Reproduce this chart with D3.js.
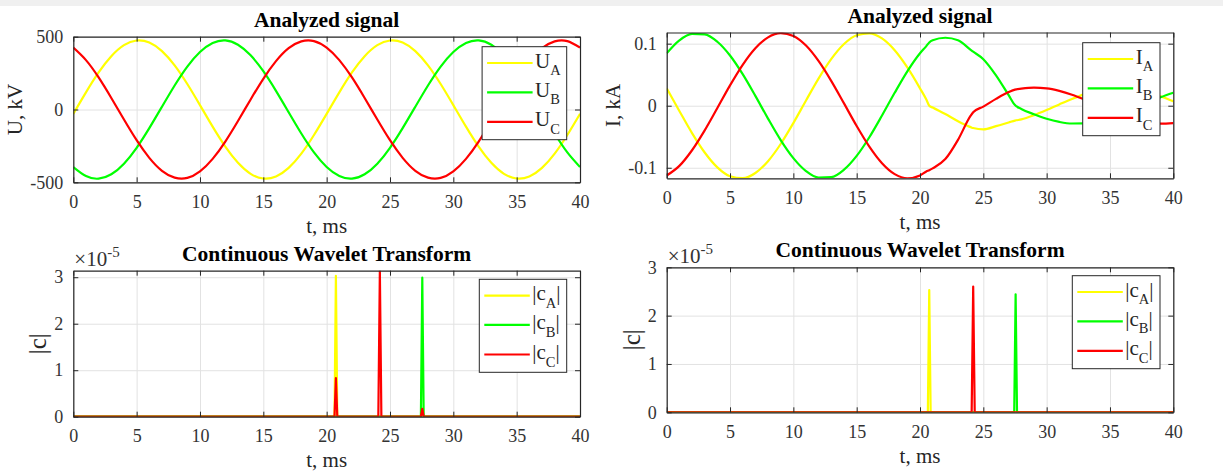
<!DOCTYPE html>
<html>
<head>
<meta charset="utf-8">
<script src="https://cdn.jsdelivr.net/npm/d3@7"></script>
<style>
  html, body { margin: 0; padding: 0; background: #fff; }
  svg { display: block; }
  text { font-family: "Liberation Serif", "Times New Roman", serif; }
</style>
</head>
<body>
<svg id="fig" width="1223" height="474"></svg>
<script>
// ---------- data ----------
// phase voltages, kV, sampled every 1 ms
const tU = d3.range(0, 41);
const uA = [-30,118,255,366,442,474,460,401,303,175,30,-118,-255,-366,-442,-474,-460,-401,-303,-175,
            -30,118,255,366,442,474,460,401,303,175,30,-118,-255,-366,-442,-474,-460,-401,-303,-175,-30];
const uB = [-395,-457,-475,-445,-372,-263,-128,19,165,295,395,457,475,445,372,263,128,-19,-165,-295,
            -395,-457,-475,-445,-372,-263,-128,19,165,295,395,457,475,445,372,263,128,-19,-165,-295,-395];
const uC = [425,339,220,79,-69,-211,-332,-421,-468,-470,-425,-339,-220,-79,69,211,332,421,468,470,
            425,339,220,79,-69,-211,-332,-421,-468,-470,-425,-339,-220,-79,69,211,332,421,468,470,425];

// phase currents, kA (poles open at current zeros near 20.73, 24.2 and 27.5 ms)
const tI = [0,1,2,3,4,5,6,7,8,9,10,11,12,13,14,15,16,17,18,19,20,20.5,20.73,21,22,23,24,24.2,25,26,27,27.5,
            28,29,30,31,32,33,34,35,36,37,38,39,40];
const iA = [0.0280,-0.0084,-0.0441,-0.0754,-0.0994,-0.1136,-0.1167,-0.1084,-0.0894,-0.0617,-0.0280,
            0.0084,0.0441,0.0754,0.0994,0.1136,0.1167,0.1084,0.0894,0.0617,0.0280,0.0099,0.0,
            -0.003,-0.0135,-0.025,-0.0345,-0.036,-0.038,-0.033,-0.027,-0.024,
            -0.022,-0.0153,-0.0070,0.0021,0.0109,0.0187,0.0246,0.0282,0.0289,0.0269,0.0222,0.0153,0.0070];
const iB = [0.0845,0.1054,0.1159,0.1151,0.1031,0.0809,0.0508,0.0158,-0.0208,-0.0554,-0.0845,
            -0.1054,-0.1159,-0.1151,-0.1031,-0.0809,-0.0508,-0.0158,0.0208,0.0554,0.0845,0.0961,0.102,
            0.1055,0.1095,0.1055,0.090,0.087,0.075,0.049,0.017,0.001,
            -0.0052,-0.0137,-0.0210,-0.0261,-0.0287,-0.0285,-0.0255,-0.0200,-0.0126,-0.0039,0.0052,0.0137,0.0210];
const iC = [-0.1125,-0.0970,-0.0718,-0.0397,-0.0037,0.0327,0.0659,0.0926,0.1102,0.1171,0.1125,
            0.0970,0.0718,0.0397,0.0037,-0.0327,-0.0659,-0.0926,-0.1102,-0.1171,-0.1125,-0.1060,-0.104,
            -0.101,-0.086,-0.055,-0.016,-0.0105,-0.0014,0.011,0.022,0.026,
            0.0274,0.029,0.028,0.024,0.0178,0.0098,0.0009,-0.0082,-0.0163,-0.0230,-0.0274,-0.0290,-0.0280];

// CWT magnitudes
const tCwt = [0,20.62,20.73,20.84,24.08,24.2,24.32,27.44,27.55,27.66,40];
const cA_U = [0,0,3.03e-5,0,0,0,0,0,0,0,0];
const cB_U = [0,0,0,0,0,0,0,0,2.99e-5,0,0];
const cC_U = [0,0,0.83e-5,0,0,3.14e-5,0,0,0.17e-5,0,0];
const cA_I = [0,0,2.53e-5,0,0,0,0,0,0,0,0];
const cB_I = [0,0,0,0,0,0,0,0,2.44e-5,0,0];
const cC_I = [0,0,0,0,0,2.60e-5,0,0,0,0,0];

const xTicks = [0,5,10,15,20,25,30,35,40];
const uTicks = [-500,0,500];
const iTicks = [-0.1,0,0.1];
const cTicks = [0,1e-5,2e-5,3e-5];
const phases = ['A','B','C'];

// ---------- drawing ----------
const COLORS = {A: '#ffff00', B: '#00ff00', C: '#ff0000'};
const INK = '#262626';
const GRID = '#e2e2e2';
const SERIF = '"Liberation Serif", "Times New Roman", serif';
const svg = d3.select('#fig');

svg.append('rect').attr('x', 0).attr('y', 0).attr('width', 1223).attr('height', 6).attr('fill', '#f0f0f0');

function drawPanel(o) {
  const x = d3.scaleLinear().domain([0, 40]).range([o.left, o.right]);
  const y = d3.scaleLinear().domain(o.yDomain).range([o.bottom, o.top]);
  const W = o.right - o.left, H = o.bottom - o.top;
  const g = svg.append('g');

  svg.append('clipPath').attr('id', 'clip-' + o.id).append('rect')
    .attr('x', o.left).attr('y', o.top).attr('width', W).attr('height', H);

  // grid
  const gx = g.append('g').attr('transform', `translate(0,${o.bottom})`)
    .call(d3.axisBottom(x).tickValues(xTicks).tickSize(-H).tickFormat(''));
  const gy = g.append('g').attr('transform', `translate(${o.left},0)`)
    .call(d3.axisLeft(y).tickValues(o.yTicks).tickSize(-W).tickFormat(''));
  [gx, gy].forEach(a => {
    a.select('.domain').remove();
    a.selectAll('line').attr('stroke', GRID).attr('stroke-width', 1);
  });

  // series
  const line = d3.line().x(d => x(d[0])).y(d => y(d[1])).curve(o.curve);
  const dg = g.append('g').attr('clip-path', `url(#clip-${o.id})`);
  o.series.forEach((s, k) => {
    dg.append('path')
      .datum(s.t.map((t, i) => [t, s.v[i]]))
      .attr('fill', 'none')
      .attr('stroke', COLORS[phases[k]])
      .attr('stroke-width', 2.2)
      .attr('stroke-linejoin', 'round')
      .attr('d', line);
  });

  // axes (ticks pointing inward on all four sides)
  const axB = g.append('g').attr('transform', `translate(0,${o.bottom})`)
    .call(d3.axisBottom(x).tickValues(xTicks).tickSizeInner(-5).tickSizeOuter(0).tickPadding(12.5));
  const axT = g.append('g').attr('transform', `translate(0,${o.top})`)
    .call(d3.axisTop(x).tickValues(xTicks).tickSizeInner(-5).tickSizeOuter(0).tickFormat(''));
  const axL = g.append('g').attr('transform', `translate(${o.left},0)`)
    .call(d3.axisLeft(y).tickValues(o.yTicks).tickSizeInner(-5).tickSizeOuter(0).tickPadding(10).tickFormat(o.yFmt));
  const axR = g.append('g').attr('transform', `translate(${o.right},0)`)
    .call(d3.axisRight(y).tickValues(o.yTicks).tickSizeInner(-5).tickSizeOuter(0).tickFormat(''));
  [axB, axT, axL, axR].forEach(a => {
    a.attr('font-family', SERIF).attr('font-size', 18);
    a.select('.domain').attr('stroke', INK).attr('stroke-width', 1.2);
    a.selectAll('line').attr('stroke', INK).attr('stroke-width', 1);
    a.selectAll('text').attr('fill', '#333').attr('font-size', 18).attr('font-family', SERIF);
  });

  // title
  g.append('text').attr('x', (o.left + o.right) / 2).attr('y', o.top - 10)
    .attr('text-anchor', 'middle').attr('font-size', 21.5).attr('font-weight', 'bold')
    .attr('fill', '#000').text(o.title);

  // x label
  g.append('text').attr('x', (o.left + o.right) / 2).attr('y', o.bottom + 50.5)
    .attr('text-anchor', 'middle').attr('font-size', 21).attr('fill', INK).text('t, ms');

  // y label
  g.append('text')
    .attr('transform', `translate(${o.ylabelX},${(o.top + o.bottom) / 2}) rotate(-90)`)
    .attr('text-anchor', 'middle').attr('font-size', o.ylabelSize).attr('fill', INK).text(o.ylabel);

  // exponent note
  if (o.exponent) {
    const e = g.append('text').attr('x', o.left + 1).attr('y', o.top - 4.5)
      .attr('font-size', 21).attr('fill', '#333');
    e.append('tspan').text('\u00d710');
    e.append('tspan').attr('dy', -9).attr('font-size', 15).text('-5');
  }

  // legend
  const L = o.legend;
  const bx = o.right - 13.3 - L.w, by = o.top + L.dy;
  const lg = g.append('g');
  lg.append('rect').attr('x', bx).attr('y', by).attr('width', L.w).attr('height', 93)
    .attr('fill', '#fff').attr('stroke', INK).attr('stroke-width', 1);
  const rows = [16.3, 45.6, 75.2];
  phases.forEach((p, k) => {
    const ry = by + rows[k];
    lg.append('line').attr('x1', bx + 5).attr('x2', bx + 50.5).attr('y1', ry).attr('y2', ry)
      .attr('stroke', COLORS[p]).attr('stroke-width', 2.2);
    const t = lg.append('text').attr('x', bx + 53).attr('y', ry + 4.5)
      .attr('font-size', 21).attr('fill', INK);
    t.append('tspan').text(L.pre);
    t.append('tspan').attr('dy', 7.5).attr('font-size', 14.5).text(p);
    if (L.post) t.append('tspan').attr('dy', -7.5).attr('font-size', 21).text(L.post);
  });
}

drawPanel({
  id: 'u', left: 73.3, right: 580, top: 36.7, bottom: 182.3,
  yDomain: [-500, 500], yTicks: uTicks, yFmt: d => String(d),
  curve: d3.curveNatural,
  series: [{t: tU, v: uA}, {t: tU, v: uB}, {t: tU, v: uC}],
  title: 'Analyzed signal', ylabel: 'U, kV', ylabelX: 22, ylabelSize: 21,
  legend: {w: 84.6, dy: 10, pre: 'U', post: ''}
});

drawPanel({
  id: 'i', left: 666.7, right: 1173.3, top: 32.5, bottom: 178.3,
  yDomain: [-0.117, 0.118], yTicks: iTicks, yFmt: d => String(d),
  curve: d3.curveMonotoneX,
  series: [{t: tI, v: iA}, {t: tI, v: iB}, {t: tI, v: iC}],
  title: 'Analyzed signal', ylabel: 'I, kA', ylabelX: 620, ylabelSize: 21,
  legend: {w: 77.3, dy: 10.2, pre: 'I', post: ''}
});

drawPanel({
  id: 'cu', left: 73.3, right: 580, top: 270.7, bottom: 416.7,
  yDomain: [0, 3.14e-5], yTicks: cTicks, yFmt: d => String(Math.round(d * 1e5)),
  curve: d3.curveLinear,
  series: [{t: tCwt, v: cA_U}, {t: tCwt, v: cB_U}, {t: tCwt, v: cC_U}],
  title: 'Continuous Wavelet Transform', ylabel: '|c|', ylabelX: 46, ylabelSize: 25,
  exponent: true,
  legend: {w: 87.4, dy: 8.6, pre: '|c', post: '|'}
});

drawPanel({
  id: 'ci', left: 666.7, right: 1173.3, top: 267.3, bottom: 412.3,
  yDomain: [0, 3e-5], yTicks: cTicks, yFmt: d => String(Math.round(d * 1e5)),
  curve: d3.curveLinear,
  series: [{t: tCwt, v: cA_I}, {t: tCwt, v: cB_I}, {t: tCwt, v: cC_I}],
  title: 'Continuous Wavelet Transform', ylabel: '|c|', ylabelX: 640, ylabelSize: 25,
  exponent: true,
  legend: {w: 87.7, dy: 8.4, pre: '|c', post: '|'}
});
</script>
</body>
</html>
